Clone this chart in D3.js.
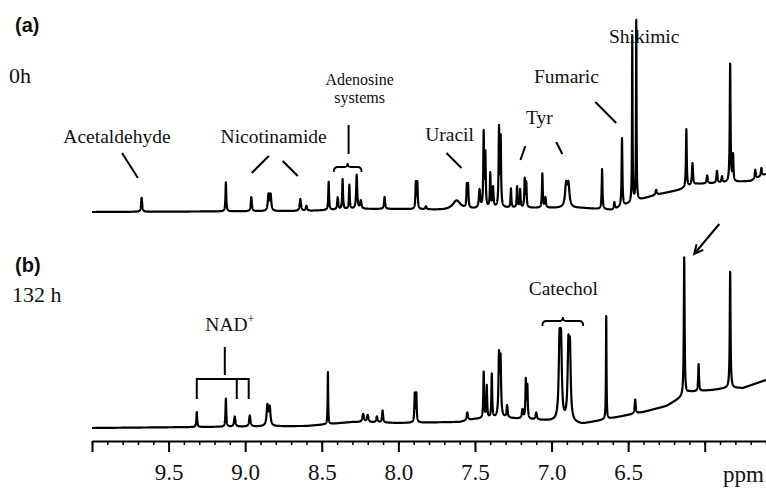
<!DOCTYPE html>
<html>
<head>
<meta charset="utf-8">
<script src="https://cdn.jsdelivr.net/npm/d3@7"></script>
<style>
  html, body { margin: 0; padding: 0; background: #fff; }
  svg { display: block; }
  .serif { font-family: "Liberation Serif", "Times New Roman", serif; }
  .sans { font-family: "Liberation Sans", Arial, sans-serif; }
</style>
</head>
<body>
<svg id="chart" width="766" height="490"></svg>
<script>
// ppm axis
const majorTicks = [10.0, 9.5, 9.0, 8.5, 8.0, 7.5, 7.0, 6.5, 6.0]
const tickLabels = ['', '9.5', '9.0', '8.5', '8.0', '7.5', '7.0', '6.5', '']

// 0 h spectrum: [ppm, height, half width]
const peaks0h = [
  [9.676, 14, 0.004], [9.126, 29, 0.003], [8.960, 14, 0.004], [8.848, 16, 0.005],
  [8.834, 16, 0.005], [8.640, 12, 0.005], [8.600, 5, 0.005], [8.455, 28, 0.003],
  [8.396, 12, 0.004], [8.364, 30, 0.003], [8.320, 24, 0.003], [8.272, 34, 0.004],
  [8.245, 8, 0.005], [8.090, 12, 0.004], [7.886, 26, 0.003], [7.876, 26, 0.003],
  [7.820, 3, 0.005], [7.620, 9, 0.03], [7.553, 22, 0.003], [7.545, 22, 0.003],
  [7.470, 18, 0.005], [7.443, 74, 0.003], [7.432, 52, 0.003], [7.400, 34, 0.003],
  [7.382, 20, 0.004], [7.343, 78, 0.003], [7.332, 68, 0.003], [7.265, 19, 0.003],
  [7.225, 21, 0.003], [7.205, 18, 0.003], [7.175, 28, 0.003], [7.165, 24, 0.003],
  [7.060, 34, 0.003], [7.040, 10, 0.004], [6.905, 22, 0.008], [6.890, 22, 0.008],
  [6.670, 40, 0.003], [6.590, 7, 0.004], [6.540, 68, 0.003], [6.473, 165, 0.002],
  [6.447, 180, 0.002], [6.317, 5, 0.005], [6.120, 58, 0.003], [6.080, 22, 0.004],
  [5.984, 8, 0.004], [5.920, 12, 0.004], [5.887, 6, 0.004], [5.834, 118, 0.003],
  [5.815, 26, 0.003], [5.670, 9, 0.004], [5.630, 8, 0.004]
]
// 0 h baseline: [ppm, level]
const baseline0h = [
  [10.0, 0], [8.6, 1], [8.3, 3], [8.0, 3], [7.7, 2], [7.3, 4], [6.8, 4], [6.6, 2],
  [6.43, 12], [6.32, 17], [6.17, 22], [6.05, 28], [5.9, 29], [5.8, 30], [5.7, 31], [5.6, 38]
]

// 132 h spectrum
const peaks132h = [
  [9.316, 15, 0.003], [9.126, 28, 0.003], [9.068, 10, 0.005], [8.970, 11, 0.005],
  [8.855, 20, 0.006], [8.840, 18, 0.006], [8.460, 52, 0.002], [8.230, 8, 0.006],
  [8.200, 7, 0.006], [8.140, 6, 0.005], [8.103, 12, 0.004], [7.893, 28, 0.003],
  [7.883, 28, 0.003], [7.550, 8, 0.005], [7.443, 46, 0.003], [7.423, 32, 0.003],
  [7.390, 44, 0.003], [7.343, 60, 0.004], [7.333, 56, 0.004], [7.290, 12, 0.004],
  [7.190, 9, 0.005], [7.168, 38, 0.003], [7.158, 32, 0.003], [7.100, 7, 0.005],
  [6.948, 72, 0.006], [6.938, 72, 0.006], [6.890, 68, 0.006], [6.880, 66, 0.006],
  [6.643, 103, 0.002], [6.454, 14, 0.004], [6.134, 138, 0.003], [6.040, 27, 0.003],
  [5.834, 116, 0.003]
]
const baseline132h = [
  [10.0, 0], [8.6, 2], [8.3, 6], [8.0, 5], [7.6, 6], [7.5, 9], [7.3, 10], [7.0, 7],
  [6.8, 4], [6.6, 10], [6.4, 16], [6.25, 22], [6.16, 30], [6.1, 36], [5.95, 38],
  [5.85, 40], [5.75, 40], [5.6, 48]
]

// annotations, placed in data coordinates [ppm, level]
const labels0h = [
  { text: 'Acetaldehyde', ppm: 9.837, level: 69 },
  { text: 'Nicotinamide', ppm: 8.814, level: 69 },
  { text: 'Adenosine', ppm: 8.253, level: 127, small: true },
  { text: 'systems', ppm: 8.253, level: 109, small: true },
  { text: 'Uracil', ppm: 7.666, level: 71 },
  { text: 'Tyr', ppm: 7.08, level: 88 },
  { text: 'Fumaric', ppm: 6.903, level: 129 },
  { text: 'Shikimic', ppm: 6.395, level: 169 }
]
const leaders0h = [
  [9.804, 59, 9.70, 34],
  [8.957, 39, 8.846, 56], [8.755, 51, 8.657, 36],
  [8.325, 87, 8.325, 58],
  [7.686, 59, 7.588, 44],
  [7.171, 66, 7.203, 52], [6.969, 70, 6.93, 58],
  [6.714, 110, 6.578, 89]
]
const braces0h = [[8.422, 8.24, 45]]

const labels132h = [
  { text: 'Catechol', ppm: 6.923, level: 133 }
]
const leaders132h = [
  [9.133, 81, 9.133, 53]
]
const braces132h = [[7.06, 6.793, 107]]

const svg = d3.select('#chart')

const x = d3.scaleLinear().domain([10.0, 5.6]).range([92, 766])
const yA = d3.scaleLinear().domain([0, 190]).range([212, 22])
const yB = d3.scaleLinear().domain([0, 190]).range([428, 238])

const ppmGrid = d3.range(10.0, 5.6, -0.0005)

/**
 * Sum of lorentzian lines on top of a piecewise baseline
 */
function spectrum(peaks, base) {
  const baseAt = d3.scaleLinear()
    .domain(base.map(d => d[0]))
    .range(base.map(d => d[1]))
  return ppmGrid.map(p => {
    let v = baseAt(p)
    for (const [c, h, w] of peaks) {
      const t = (p - c) / w
      v += h / (1 + t * t)
    }
    return [p, v]
  })
}

function drawPanel(peaks, base, y) {
  const line = d3.line().x(d => x(d[0])).y(d => y(d[1]))
  svg.append('path')
    .datum(spectrum(peaks, base))
    .attr('d', line)
    .attr('fill', 'none')
    .attr('stroke', '#000')
    .attr('stroke-width', 2.2)
    .attr('stroke-linejoin', 'round')
}

function drawLabels(labels, y) {
  svg.append('g')
    .selectAll('text')
    .data(labels)
    .join('text')
    .attr('class', 'serif')
    .attr('x', d => x(d.ppm))
    .attr('y', d => y(d.level))
    .attr('text-anchor', 'middle')
    .style('font-size', d => (d.small ? 16 : 19.5) + 'px')
    .attr('fill', '#111')
    .text(d => d.text)
}

function drawLeaders(leaders, y) {
  svg.append('g')
    .selectAll('line')
    .data(leaders)
    .join('line')
    .attr('x1', d => x(d[0]))
    .attr('y1', d => y(d[1]))
    .attr('x2', d => x(d[2]))
    .attr('y2', d => y(d[3]))
    .attr('stroke', '#000')
    .attr('stroke-width', 2)
}

// curly brace opening downwards
function drawBraces(braces, y) {
  braces.forEach(([p0, p1, lv]) => {
    const x0 = x(p0), x1 = x(p1), yy = y(lv), xc = (x0 + x1) / 2
    const d = `M${x0},${yy + 5} Q${x0},${yy} ${x0 + 4},${yy} L${xc - 3},${yy}` +
      ` Q${xc},${yy} ${xc},${yy - 4} Q${xc},${yy} ${xc + 3},${yy}` +
      ` L${x1 - 4},${yy} Q${x1},${yy} ${x1},${yy + 5}`
    svg.append('path')
      .attr('d', d)
      .attr('fill', 'none')
      .attr('stroke', '#000')
      .attr('stroke-width', 1.8)
  })
}

// panels
drawPanel(peaks0h, baseline0h, yA)
drawPanel(peaks132h, baseline132h, yB)

drawLabels(labels0h, yA)
drawLeaders(leaders0h, yA)
drawBraces(braces0h, yA)

drawLabels(labels132h, yB)
drawLeaders(leaders132h, yB)
drawBraces(braces132h, yB)

// NAD+ bracket
const nadPpm = [9.316, 9.055, 8.977]
const nadTop = 49
const nadLeg = 29
svg.append('path')
  .attr('d', `M${x(nadPpm[0])},${yB(nadLeg)} L${x(nadPpm[0])},${yB(nadTop)} L${x(nadPpm[2])},${yB(nadTop)} L${x(nadPpm[2])},${yB(nadLeg)}` +
    ` M${x(nadPpm[1])},${yB(nadTop)} L${x(nadPpm[1])},${yB(nadLeg)}`)
  .attr('fill', 'none')
  .attr('stroke', '#000')
  .attr('stroke-width', 2)

const nad = svg.append('text')
  .attr('class', 'serif')
  .attr('x', x(9.10))
  .attr('y', yB(97))
  .attr('text-anchor', 'middle')
  .style('font-size', '19.5px')
  .attr('fill', '#111')
nad.append('tspan').text('NAD')
nad.append('tspan').style('font-size', '12px').attr('dy', -8).text('+')

// arrow to the 132 h peak
const arrowFrom = [5.905, 204]
const arrowTo = [6.069, 174]
const ax0 = x(arrowFrom[0]), ay0 = yB(arrowFrom[1])
const ax1 = x(arrowTo[0]), ay1 = yB(arrowTo[1])
const ang = Math.atan2(ay1 - ay0, ax1 - ax0)
const headLen = 10
svg.append('path')
  .attr('d', `M${ax0},${ay0} L${ax1},${ay1}` +
    ` M${ax1 - headLen * Math.cos(ang - 0.45)},${ay1 - headLen * Math.sin(ang - 0.45)} L${ax1},${ay1}` +
    ` L${ax1 - headLen * Math.cos(ang + 0.45)},${ay1 - headLen * Math.sin(ang + 0.45)}`)
  .attr('fill', 'none')
  .attr('stroke', '#000')
  .attr('stroke-width', 2)

// panel captions
const captions = [
  { text: '(a)', x: 15, y: 32, cls: 'sans', size: 20, bold: true },
  { text: '0h', x: 9, y: 83, cls: 'serif', size: 22 },
  { text: '(b)', x: 15, y: 272, cls: 'sans', size: 20, bold: true },
  { text: '132 h', x: 12, y: 302, cls: 'serif', size: 22 }
]
svg.append('g')
  .selectAll('text')
  .data(captions)
  .join('text')
  .attr('class', d => d.cls)
  .attr('x', d => d.x)
  .attr('y', d => d.y)
  .style('font-size', d => d.size + 'px')
  .style('font-weight', d => d.bold ? 'bold' : 'normal')
  .attr('fill', '#111')
  .text(d => d.text)

// x axis
const axisY = 441
const minorTicks = d3.range(100, 55, -1).map(d => d / 10)

const minorAxis = d3.axisBottom(x)
  .tickValues(minorTicks)
  .tickSize(4)
  .tickSizeOuter(0)
  .tickFormat('')
const majorAxis = d3.axisBottom(x)
  .tickValues(majorTicks)
  .tickSize(11)
  .tickSizeOuter(0)
  .tickFormat((d, i) => tickLabels[i])

svg.append('g')
  .attr('transform', `translate(0,${axisY})`)
  .call(minorAxis)
  .call(g => g.select('.domain').remove())
  .call(g => g.selectAll('.tick line').attr('stroke', '#000').attr('stroke-width', 1.5))

svg.append('g')
  .attr('transform', `translate(0,${axisY})`)
  .call(majorAxis)
  .call(g => g.select('.domain').attr('stroke', '#000').attr('stroke-width', 2))
  .call(g => g.selectAll('.tick line').attr('stroke', '#000').attr('stroke-width', 2))
  .call(g => g.selectAll('.tick text')
    .attr('class', 'serif')
    .attr('y', 39)
    .attr('dy', 0)
    .style('font-family', '"Liberation Serif", "Times New Roman", serif')
    .style('font-size', '23px')
    .attr('fill', '#111'))

svg.append('text')
  .attr('class', 'serif')
  .attr('x', 764)
  .attr('y', 482)
  .attr('text-anchor', 'end')
  .style('font-size', '23px')
  .attr('fill', '#111')
  .text('ppm')
</script>
</body>
</html>
